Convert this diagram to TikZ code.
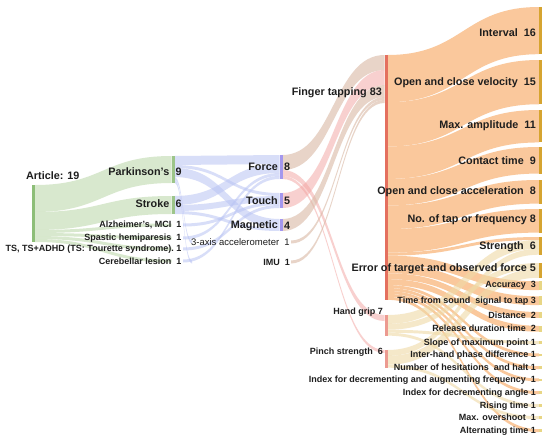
\documentclass[tikz,border=0pt]{standalone}
\usepackage{fontspec}
\setmainfont{Liberation Sans}

\definecolor{labelc}{HTML}{1E1E1E}
\definecolor{artbar}{HTML}{8DBE78}
\definecolor{greenflow}{HTML}{CFE3C2}
\definecolor{disbar}{HTML}{9DC58A}
\definecolor{blueflow}{HTML}{B9C3F4}
\definecolor{sensbar}{HTML}{A497EE}
\definecolor{tanflow}{HTML}{D9B8A4}
\definecolor{pinkflow}{HTML}{F3A3A0}
\definecolor{taskbar}{HTML}{E4705F}
\definecolor{gripbar}{HTML}{EC9A90}
\definecolor{peach}{HTML}{FAC89C}
\definecolor{gripflow}{HTML}{EFD9A6}
\definecolor{measbar}{HTML}{D6A430}
\definecolor{measbarlt}{HTML}{E8D685}

% band between two bars: x1, y1 (top), x2, y2 (top), width, style
\newcommand{\flowband}[6]{%
  \fill[#6] (#1,#2) .. controls ({(#1+#3)/2},#2) and ({(#1+#3)/2},#4) .. (#3,#4)
    -- (#3,#4+#5) .. controls ({(#1+#3)/2},#4+#5) and ({(#1+#3)/2},#2+#5) .. (#1,#2+#5) -- cycle;}

\begin{document}
\begin{tikzpicture}[x=1pt, y=-1pt,
    big/.style={font=\fontsize{10.8}{12}\selectfont\bfseries, inner sep=0pt, text=labelc},
    small/.style={font=\fontsize{9}{10}\selectfont\bfseries, inner sep=0pt, text=labelc},
    gflow/.style={fill=greenflow, fill opacity=.8},
    bflow/.style={fill=blueflow, fill opacity=.55},
    tflow/.style={fill=tanflow, fill opacity=.6},
    pflow/.style={fill=pinkflow, fill opacity=.5},
    oflow/.style={fill=peach},
    yflow/.style={fill=gripflow, fill opacity=.6}]
    \fill[white] (0,0) rectangle (550,442);
    \useasboundingbox (0,0) rectangle (550,442);

    % article -> diseases
    \flowband{35}{185}{171.5}{156}{27}{gflow}
    \flowband{35}{212}{171.5}{196}{18}{gflow}
    \flowband{35}{230}{171.5}{223.5}{3}{gflow}
    \flowband{35}{233}{171.5}{236.5}{3}{gflow}
    \flowband{35}{236}{171.5}{247.5}{3}{gflow}
    \flowband{35}{239}{171.5}{259.5}{3}{gflow}

    % diseases -> sensors
    \flowband{174.5}{156}{279.5}{155}{9}{bflow}
    \flowband{174.5}{165}{279.5}{193}{3}{bflow}
    \flowband{174.5}{168}{279.5}{219}{9}{bflow}
    \flowband{174.5}{177}{192}{240.5}{3}{bflow}
    \flowband{174.5}{180}{192}{260.5}{3}{bflow}
    \flowband{174.5}{196}{279.5}{164}{9}{bflow}
    \flowband{174.5}{205}{279.5}{196}{6}{bflow}
    \flowband{174.5}{211}{279.5}{228}{3}{bflow}
    \flowband{183}{223.5}{279.5}{202}{3}{bflow}
    \flowband{183}{236.5}{279.5}{173}{3}{bflow}
    \flowband{183}{247.5}{279.5}{205}{3}{bflow}
    \flowband{183}{259.5}{279.5}{176}{3}{bflow}

    % sensors -> tasks
    \flowband{282.5}{155}{384.5}{55}{15}{tflow}
    \flowband{282.5}{170}{384.5}{315}{6}{pflow}
    \flowband{282.5}{176}{384.5}{350}{3}{pflow}
    \flowband{282.5}{193}{384.5}{70}{15}{pflow}
    \flowband{282.5}{219}{384.5}{85}{12}{tflow}
    \flowband{291}{240.5}{384.5}{97}{3}{tflow}
    \flowband{291}{260.5}{384.5}{100}{3}{tflow}

    % finger tapping -> measures
    \foreach \ya/\yb/\w in {55/7/47.2, 102.2/60/44.25, 146.45/110/32.45, 178.9/147/26.55,
        205.45/180/23.6, 229.05/209/23.6, 252.65/237/2.95, 255.6/281.3/8.85,
        264.45/296.3/8.85, 273.3/312/5.9, 279.2/325.8/5.9, 285.1/353.5/2.95,
        288.05/366.2/2.95, 291/378.5/2.95, 293.95/391.2/2.95, 296.9/429.2/2.95}
      \flowband{387.5}{\ya}{539}{\yb}{\w}{oflow};

    % hand grip, pinch strength -> measures
    \foreach \ya/\yb/\w in {315/239.95/8.85, 323.85/263/5.9, 329.75/341.2/2.95, 332.7/404.2/2.95,
        350/248.8/5.9, 355.9/268.9/8.85, 364.75/416.2/2.95}
      \flowband{387.5}{\ya}{539}{\yb}{\w}{yflow};

    % bars
    \fill[artbar] (32,185) rectangle (35,242);
    \fill[disbar] (171.5,156) rectangle (174.5,183);
    \fill[disbar] (171.5,196) rectangle (174.5,214);
    \fill[sensbar] (279.5,155) rectangle (282.5,179);
    \fill[sensbar] (279.5,193) rectangle (282.5,208);
    \fill[sensbar] (279.5,219) rectangle (282.5,231);
    \fill[taskbar] (384.5,55) rectangle (387.5,300);
    \fill[gripbar] (384.5,315) rectangle (387.5,335.65);
    \fill[gripbar] (384.5,350) rectangle (387.5,367.7);
    \foreach \ya/\yb in {7/54.2, 60/104.25, 110/142.45, 147/173.55, 180/203.6, 209/232.6,
        237/254.7, 263/277.75}
      \fill[measbar] (539,\ya) rectangle (542,\yb);
    \foreach \ya/\yb in {281.3/290.15, 296.3/305.15, 312/317.9, 325.8/331.7, 341.2/344.15,
        353.5/356.45, 366.2/369.15, 378.5/381.45, 391.2/394.15, 404.2/407.15,
        416.2/419.15, 429.2/432.15}
      \fill[measbarlt] (539,\ya) rectangle (542,\yb);

    % labels
    \node[big, anchor=west] (article) at (26,176) {Article: 19};

    \node[big, anchor=east] (park) at (169.5,172) {Parkinson's};
    \node[big, anchor=west] (parkn) at (175.5,172) {9};
    \node[big, anchor=east] (stroke) at (169.5,204) {Stroke};
    \node[big, anchor=west] (stroken) at (175.5,204) {6};
    \node[small, anchor=east] (alz) at (181.5,225) {Alzheimer's, MCI~~1};
    \node[small, anchor=east] (spastic) at (181.5,238) {Spastic hemiparesis~~1};
    \node[small, anchor=east] (ts) at (181.5,249) {TS, TS+ADHD (TS: Tourette syndrome).~1};
    \node[small, anchor=east] (cereb) at (181.5,261) {Cerebellar lesion~~1};

    \node[big, anchor=east] (force) at (278,167) {Force};
    \node[big, anchor=west] (forcen) at (284,167) {8};
    \node[big, anchor=east] (touch) at (278,201) {Touch};
    \node[big, anchor=west] (touchn) at (284,201) {5};
    \node[big, anchor=east] (magnet) at (278,225.5) {Magnetic};
    \node[big, anchor=west] (magnetn) at (284,225.5) {4};
    \node[small, anchor=east, font=\fontsize{9.5}{10}\selectfont] (accel) at (290,242) {3-axis accelerometer~~1};
    \node[small, anchor=east] (imu) at (290,262) {IMU~~1};

    \node[big, anchor=east] (finger) at (382,92.5) {Finger tapping 83};
    \node[small, anchor=east] (grip) at (383,312) {Hand grip 7};
    \node[small, anchor=east] (pinch) at (383,352) {Pinch strength~~6};

    \node[big, anchor=east] (interval) at (536,33) {Interval~~16};
    \node[big, anchor=east] (ocvel) at (536,83) {Open and close velocity~~15};
    \node[big, anchor=east] (maxamp) at (536,126) {Max. amplitude~~11};
    \node[big, anchor=east] (contact) at (536,160.5) {Contact time~~9};
    \node[big, anchor=east] (ocacc) at (536,191.5) {Open and close acceleration~~8};
    \node[big, anchor=east] (notap) at (536,220) {No. of tap or frequency 8};
    \node[big, anchor=east] (strength) at (536,247) {Strength~~6};
    \node[big, anchor=east] (error) at (536,268.3) {Error of target and observed force 5};
    \node[small, anchor=east] (accuracy) at (536,285.7) {Accuracy~~3};
    \node[small, anchor=east] (sound) at (536,300.7) {Time from sound~~signal to tap~3};
    \node[small, anchor=east] (distance) at (536,315) {Distance~~2};
    \node[small, anchor=east] (release) at (536,328.7) {Release duration time~~2};
    \node[small, anchor=east] (slope) at (536,342.7) {Slope of maximum point~1};
    \node[small, anchor=east] (phase) at (536,355) {Inter-hand phase difference~1};
    \node[small, anchor=east] (halt) at (536,367.7) {Number of hesitations~~and halt~1};
    \node[small, anchor=east] (idxfreq) at (536,380) {Index for decrementing and augmenting frequency~~1};
    \node[small, anchor=east] (idxangle) at (536,392.7) {Index for decrementing angle~1};
    \node[small, anchor=east] (rising) at (536,405.7) {Rising time~1};
    \node[small, anchor=east] (overshoot) at (536,417.7) {Max. overshoot~~1};
    \node[small, anchor=east] (alter) at (536,430.7) {Alternating time~1};
\end{tikzpicture}
\end{document}
